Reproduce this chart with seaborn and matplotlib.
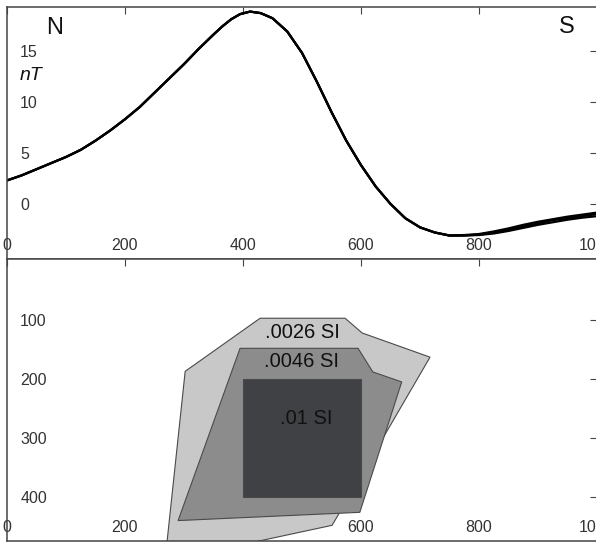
import matplotlib
matplotlib.use("Agg")
import matplotlib.pyplot as plt
import pandas as pd
import seaborn as sns

# Profile distance (m) and total-field anomaly (nT) for three model runs
distance = [0, 25, 50, 75, 100, 125, 150, 175, 200, 225, 250, 275, 300, 325,
            350, 365, 380, 395, 412, 430, 450, 475, 500, 525, 550, 575, 600,
            625, 650, 675, 700, 725, 750, 775, 800, 825, 850, 875, 900, 925,
            950, 975, 1000]
anomaly_a = [2.3, 2.8, 3.4, 4.0, 4.6, 5.3, 6.2, 7.2, 8.3, 9.5, 10.9, 12.3, 13.7,
             15.2, 16.6, 17.4, 18.1, 18.6, 18.85, 18.7, 18.2, 16.9, 14.8, 12.0,
             9.0, 6.2, 3.8, 1.7, 0.0, -1.4, -2.3, -2.8, -3.1, -3.1, -3.0, -2.8,
             -2.5, -2.2, -1.9, -1.6, -1.4, -1.2, -1.0]
anomaly_b = [2.3, 2.8, 3.4, 4.0, 4.6, 5.3, 6.2, 7.2, 8.3, 9.5, 10.9, 12.3, 13.7,
             15.2, 16.6, 17.4, 18.1, 18.6, 18.85, 18.7, 18.2, 16.9, 14.8, 12.0,
             9.0, 6.2, 3.8, 1.7, 0.0, -1.4, -2.3, -2.8, -3.1, -3.1, -3.05, -2.9,
             -2.65, -2.35, -2.05, -1.8, -1.55, -1.35, -1.2]
anomaly_c = [2.3, 2.8, 3.4, 4.0, 4.6, 5.3, 6.2, 7.2, 8.3, 9.5, 10.9, 12.3, 13.7,
             15.2, 16.6, 17.4, 18.1, 18.6, 18.85, 18.7, 18.2, 16.9, 14.8, 12.0,
             9.0, 6.2, 3.8, 1.7, 0.0, -1.4, -2.3, -2.8, -3.1, -3.05, -2.95, -2.7,
             -2.4, -2.05, -1.75, -1.5, -1.25, -1.05, -0.85]

# Cross-section of the magnetised bodies (distance m, depth m)
outer_x = [302, 429, 573, 602, 717, 561, 551, 323, 269]
outer_z = [187, 97, 97, 122, 163, 431, 448, 497, 497]
middle_x = [395, 595, 620, 669, 598, 290]
middle_z = [148, 148, 188, 205, 426, 440]
core_x = [400, 600, 600, 400]
core_z = [200, 200, 400, 400]

susceptibility_labels = [".0026 SI", ".0046 SI", ".01 SI"]
label_x = [500, 500, 508]
label_z = [122, 171, 267]

distance_ticks = [0, 200, 400, 600, 800, 1000]
field_ticks = [0, 5, 10, 15]
depth_ticks = [100, 200, 300, 400]

sns.set_style("white")
plt.rcParams["font.family"] = ["Liberation Sans", "DejaVu Sans"]

W, H = 596, 543
fig = plt.figure(figsize=(W / 100, H / 100), dpi=100)
ax_top = fig.add_axes([7 / W, (H - 259) / H, 590 / W, 252 / H])
ax_bot = fig.add_axes([7 / W, 2 / H, 590 / W, 282 / H])

# --- anomaly profile ---
profiles = pd.DataFrame({
    "distance": distance * 3,
    "anomaly": anomaly_a + anomaly_b + anomaly_c,
    "model": ["a"] * len(distance) + ["b"] * len(distance) + ["c"] * len(distance),
})
sns.lineplot(data=profiles, x="distance", y="anomaly", units="model",
             estimator=None, color="black", lw=1.6, legend=False, ax=ax_top)
ax_top.set_xlim(0, 1000)
ax_top.set_ylim(-5.4, 19.3)
ax_top.set_yticks(field_ticks)
ax_top.text(80, 17.2, "N", fontsize=17, ha="center", va="center", color="#111")
ax_top.text(949, 17.3, "S", fontsize=17, ha="center", va="center", color="#111")
ax_top.text(40, 12.6, "nT", fontsize=14, style="italic", ha="center",
            va="center", color="#111")

# --- source bodies ---
ax_bot.fill(outer_x, outer_z, facecolor="#c8c8c8", edgecolor="#4a4a4a", lw=0.8, zorder=2)
ax_bot.fill(middle_x, middle_z, facecolor="#8c8c8c", edgecolor="#4a4a4a", lw=0.8, zorder=3)
ax_bot.fill(core_x, core_z, facecolor="#3f4145", edgecolor="#4a4a4a", lw=0.8, zorder=4)
for txt, lx, lz in zip(susceptibility_labels, label_x, label_z):
    ax_bot.text(lx, lz, txt, fontsize=14.5, ha="center", va="center",
                color="#111", zorder=5)
ax_bot.set_xlim(0, 1000)
ax_bot.set_ylim(474.6, -3.4)
ax_bot.set_yticks(depth_ticks)

for ax in (ax_top, ax_bot):
    ax.set_xticks(distance_ticks)
    ax.set_xlabel("")
    ax.set_ylabel("")
    ax.tick_params(direction="in", top=True, right=True, length=5, width=0.8,
                   color="#444", labelsize=11.5, labelcolor="#333")
    ax.tick_params(axis="x", pad=-15)
    ax.tick_params(axis="y", pad=-9.5)
    for lab in ax.get_yticklabels():
        lab.set_horizontalalignment("left")
    for s in ax.spines.values():
        s.set_color("#444")
        s.set_linewidth(1.1)

fig.savefig("out.png", dpi=100, facecolor="white")
